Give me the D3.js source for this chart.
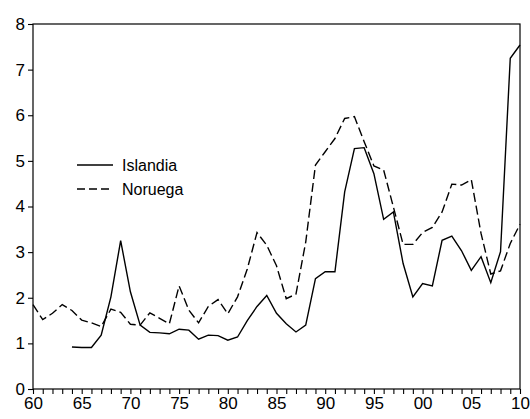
<!DOCTYPE html>
<html>
<head>
<meta charset="utf-8">
<script src="https://cdn.jsdelivr.net/npm/d3@7"></script>
<style>
  body { margin: 0; background: #fff; }
  svg { display: block; font-family: "Liberation Sans", Arial, sans-serif; }
</style>
</head>
<body>
<script>
// Data
const years = d3.range(1960, 2011);

// Islandia starts in 1964
const islandiaYears = d3.range(1964, 2011);
const islandia = [
  0.92, 0.91, 0.91, 1.18, 2.02, 3.25, 2.13, 1.40, 1.24, 1.23,
  1.21, 1.31, 1.29, 1.09, 1.18, 1.17, 1.07, 1.14, 1.50, 1.81,
  2.05, 1.66, 1.43, 1.25, 1.40, 2.42, 2.57, 2.57, 4.32, 5.27,
  5.29, 4.72, 3.72, 3.88, 2.75, 2.02, 2.31, 2.26, 3.26, 3.35,
  3.03, 2.60, 2.90, 2.33, 3.01, 7.25, 7.54
];

const noruega = [
  1.85, 1.52, 1.66, 1.85, 1.72, 1.51, 1.45, 1.37, 1.75, 1.68,
  1.42, 1.40, 1.67, 1.55, 1.43, 2.26, 1.73, 1.45, 1.81, 1.96,
  1.65, 2.02, 2.63, 3.43, 3.15, 2.70, 1.98, 2.08, 3.22, 4.91,
  5.20, 5.49, 5.93, 5.97, 5.42, 4.89, 4.80, 3.99, 3.17, 3.17,
  3.43, 3.54, 3.88, 4.49, 4.47, 4.59, 3.41, 2.52, 2.59, 3.19,
  3.61
];

const yTicks = d3.range(0, 9);
const xTicks = d3.range(1960, 2011, 5);
const legendLabels = ["Islandia", "Noruega"];

const width = 530, height = 419;
const margin = { top: 24, right: 10, bottom: 30, left: 33 };

const svg = d3.select("body").append("svg")
  .attr("width", width)
  .attr("height", height);

const x = d3.scaleLinear()
  .domain([1960, 2010])
  .range([margin.left, width - margin.right]);

const y = d3.scaleLinear()
  .domain([0, 8])
  .range([height - margin.bottom, margin.top]);

// Frame
svg.append("rect")
  .attr("x", x(1960))
  .attr("y", y(8))
  .attr("width", x(2010) - x(1960))
  .attr("height", y(0) - y(8))
  .attr("fill", "none")
  .attr("stroke", "#000")
  .attr("stroke-width", 1.2);

// Bottom axis: a tick every year, labels every 5 years
const xAxis = svg.append("g")
  .attr("transform", `translate(0,${y(0)})`)
  .call(d3.axisBottom(x)
    .tickValues(years)
    .tickSize(5)
    .tickSizeOuter(0)
    .tickFormat((d) => (xTicks.includes(d) ? String(d % 100).padStart(2, "0") : "")));

xAxis.select(".domain").remove();
xAxis.selectAll("line").attr("stroke", "#000").attr("stroke-width", 1.1);
xAxis.selectAll("text")
  .attr("font-size", 17)
  .attr("font-family", "Liberation Sans, Arial, sans-serif")
  .attr("fill", "#000")
  .attr("dy", "0.8em")
  .attr("y", 6);

// Left axis
const yAxis = svg.append("g")
  .attr("transform", `translate(${x(1960)},0)`)
  .call(d3.axisLeft(y)
    .tickValues(yTicks)
    .tickSize(5)
    .tickSizeOuter(0)
    .tickFormat(d3.format("d")));

yAxis.select(".domain").remove();
yAxis.selectAll("line").attr("stroke", "#000").attr("stroke-width", 1.1);
yAxis.selectAll("text")
  .attr("font-size", 17)
  .attr("font-family", "Liberation Sans, Arial, sans-serif")
  .attr("fill", "#000")
  .attr("x", -8);

// Lines
const line = d3.line()
  .x((d) => x(d[0]))
  .y((d) => y(d[1]));

svg.append("path")
  .datum(noruega.map((v, i) => [years[i], v]))
  .attr("fill", "none")
  .attr("stroke", "#000")
  .attr("stroke-width", 1.4)
  .attr("stroke-dasharray", "9,4")
  .attr("d", line);

svg.append("path")
  .datum(islandia.map((v, i) => [islandiaYears[i], v]))
  .attr("fill", "none")
  .attr("stroke", "#000")
  .attr("stroke-width", 1.4)
  .attr("d", line);

// Legend
const legend = svg.append("g").attr("transform", "translate(77,165)");

legendLabels.forEach((label, i) => {
  const g = legend.append("g").attr("transform", `translate(0,${i * 24})`);
  g.append("line")
    .attr("x1", 0)
    .attr("x2", 36)
    .attr("stroke", "#000")
    .attr("stroke-width", 1.4)
    .attr("stroke-dasharray", i === 1 ? "8,4" : null);
  g.append("text")
    .attr("x", 45)
    .attr("dy", "0.35em")
    .attr("font-size", 16)
    .attr("fill", "#000")
    .text(label);
});
</script>
</body>
</html>
